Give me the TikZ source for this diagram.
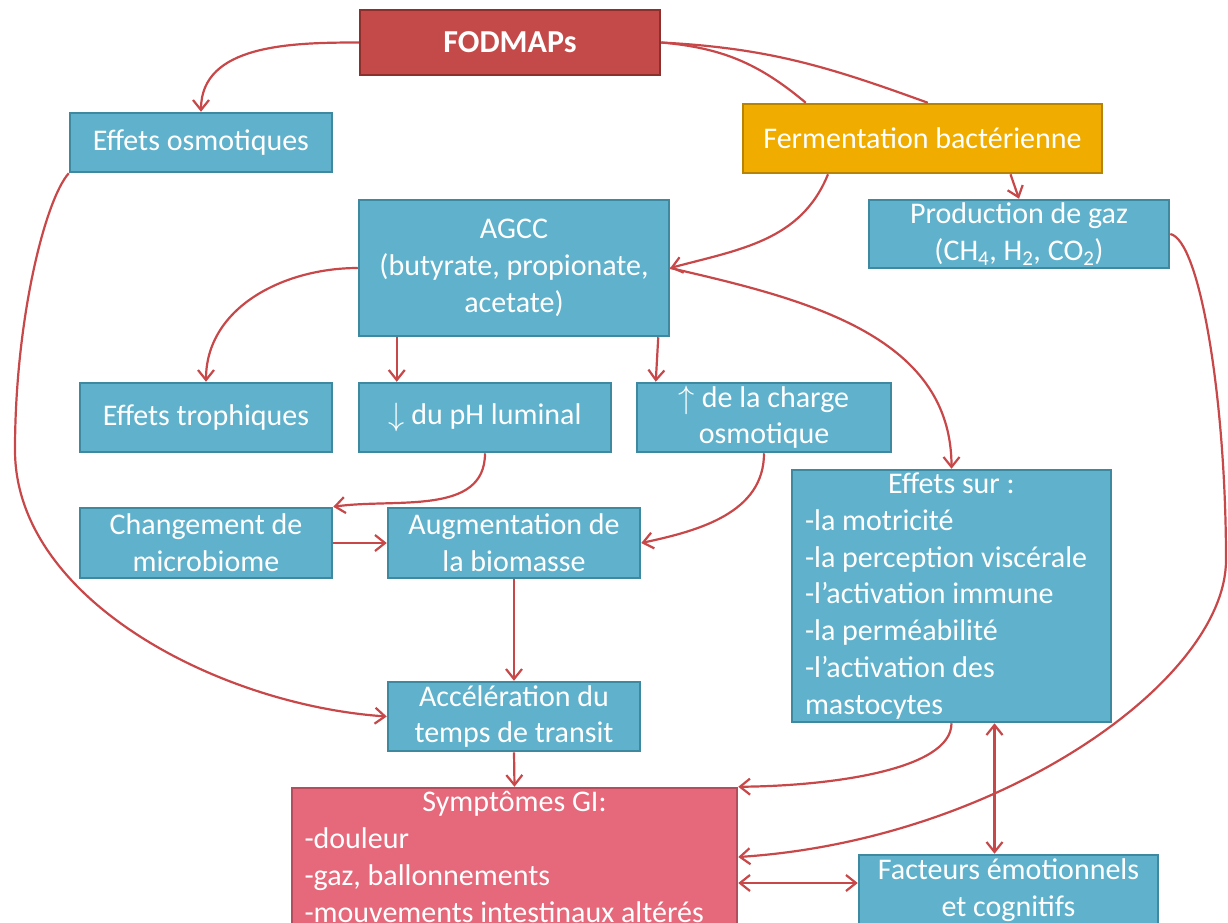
\documentclass[tikz,border=0pt]{standalone}
\usepackage{fontspec}
\setmainfont{Carlito}
\usetikzlibrary{arrows.meta,calc}
\definecolor{bfill}{RGB}{96,178,204}
\definecolor{bdraw}{RGB}{62,137,160}
\definecolor{rfill}{RGB}{195,74,72}
\definecolor{rdraw}{RGB}{140,48,46}
\definecolor{ofill}{RGB}{240,173,0}
\definecolor{odraw}{RGB}{184,132,0}
\definecolor{pfill}{RGB}{230,105,123}
\definecolor{pdraw}{RGB}{180,78,92}
\definecolor{lred}{RGB}{200,72,74}
\newcommand{\bigarrow}[1]{\raisebox{-0.1ex}{\scalebox{1.3}{$#1$}}}
\begin{document}
\begin{tikzpicture}[x=1pt,y=1pt,
  box/.style={draw=bdraw,fill=bfill,line width=2.5pt,text=white,
    font=\fontsize{30}{36.7}\selectfont,align=center,inner sep=0pt},
  rbox/.style={box,draw=rdraw,fill=rfill,font={\fontsize{32}{38}\selectfont\bfseries}},
  obox/.style={box,draw=odraw,fill=ofill},
  pbox/.style={box,draw=pdraw,fill=pfill},
  txt/.style={text=white,font=\fontsize{30}{36.7}\selectfont,align=left,inner sep=0pt},
  conn/.style={draw=lred,line width=2.2pt},
  arr/.style={-{Straight Barb[length=10pt,width=16pt]}},
  darr/.style={{Straight Barb[length=10pt,width=16pt]}-{Straight Barb[length=10pt,width=16pt]}}
]
\clip (0,0) rectangle (1228,-922);
\fill[white] (0,0) rectangle (1228,-922);

% nodes
\node[rbox,minimum width=300pt,minimum height=65pt] (fod) at (510,-42.5) {FODMAPs};
\node[box,minimum width=262pt,minimum height=59pt] (eo) at (201,-142.5) {Effets osmotiques};
\node[obox,minimum width=359pt,minimum height=69pt] (ferm) at (922.5,-138.5) {Fermentation bactérienne};
\node[box,minimum width=310pt,minimum height=136pt] (agcc) at (514,-268) {AGCC\\(butyrate, propionate,\\acetate)};
\node[box,minimum width=300pt,minimum height=68pt] (prod) at (1019,-234) {Production de gaz\\(CH\textsubscript{4}, H\textsubscript{2}, CO\textsubscript{2})};
\node[box,minimum width=252pt,minimum height=69pt] (troph) at (206,-417.5) {Effets trophiques};
\node[box,minimum width=252pt,minimum height=69pt] (ph) at (485,-417.5) {\bigarrow{\downarrow} du pH luminal};
\node[box,minimum width=254pt,minimum height=69pt] (charge) at (764,-417.5) {\bigarrow{\uparrow} de la charge\\osmotique};
\node[box,minimum width=319pt,minimum height=252pt] (eff) at (951.5,-596) {};
\node[txt] (efftxt) at (eff.center) {\makebox[293pt]{Effets sur :}\\-la motricité\\-la perception viscérale\\-l’activation immune\\-la perméabilité\\-l’activation des\\mastocytes};
\node[box,minimum width=252pt,minimum height=70pt] (chg) at (206,-543) {Changement de\\microbiome};
\node[box,minimum width=252pt,minimum height=70pt] (aug) at (514,-543) {Augmentation de\\la biomasse};
\node[box,minimum width=252pt,minimum height=69pt] (acc) at (514,-716.5) {Accélération du\\temps de transit};
\node[pbox,minimum width=445pt,minimum height=138pt] (sym) at (514.5,-857) {};
\node[txt] (symtxt) at (sym.center) {\makebox[420pt]{Symptômes GI:}\\-douleur\\-gaz, ballonnements\\-mouvements intestinaux altérés};
\node[box,minimum width=299pt,minimum height=70pt] (fac) at (1008.5,-890) {Facteurs émotionnels\\et cognitifs};

% connectors
\draw[conn,arr] (fod.west) to[out=180,in=90] (eo.north);
\draw[conn] (fod.east) to[out=-5,in=140] ([xshift=64pt]ferm.north west);
\draw[conn] (fod.east) to[out=-3,in=160] ([xshift=186pt]ferm.north west);
\draw[conn,arr] ([xshift=-94.5pt]ferm.south) to[out=-112,in=15] (agcc.east);
\draw[conn,arr] ([xshift=88pt]ferm.south) -- (prod.north);
\draw[conn,arr] (agcc.east) to[out=-13,in=90] (eff.north);
\draw[conn,arr] (agcc.west) to[out=180,in=90] (troph.north);
\draw[conn,arr] ([xshift=39pt]agcc.south west) -- ([xshift=39pt]ph.north west);
\draw[conn,arr] ([xshift=-12pt]agcc.south east) -- ([xshift=20pt]charge.north west);
\draw[conn,arr] (ph.south) to[out=-90,in=8] (chg.north east);
\draw[conn,arr] (chg.east) -- (aug.west);
\draw[conn,arr] (charge.south) to[out=-90,in=12] (aug.east);
\draw[conn,arr] (aug.south) -- (acc.north);
\draw[conn,arr] (eo.south west) .. controls (45,-200) and (15,-320) .. (15,-450)
   .. controls (15,-600) and (220,-705) .. (acc.west);
\draw[conn,arr] (acc.south) -- (sym.north);
\draw[conn,arr] (eff.south) .. controls (951.5,-770) and (830,-786) .. (sym.north east);
\draw[conn,arr] (prod.east) .. controls (1200,-240) and (1226,-400) .. (1226,-560)
   .. controls (1226,-680) and (1000,-840) .. (sym.east);
\draw[conn,darr] ([xshift=43pt]eff.south) -- ([xshift=-14pt]fac.north);
\draw[conn,darr] ([yshift=-26pt]sym.east) -- ([yshift=7pt]fac.west);
\end{tikzpicture}
\end{document}
